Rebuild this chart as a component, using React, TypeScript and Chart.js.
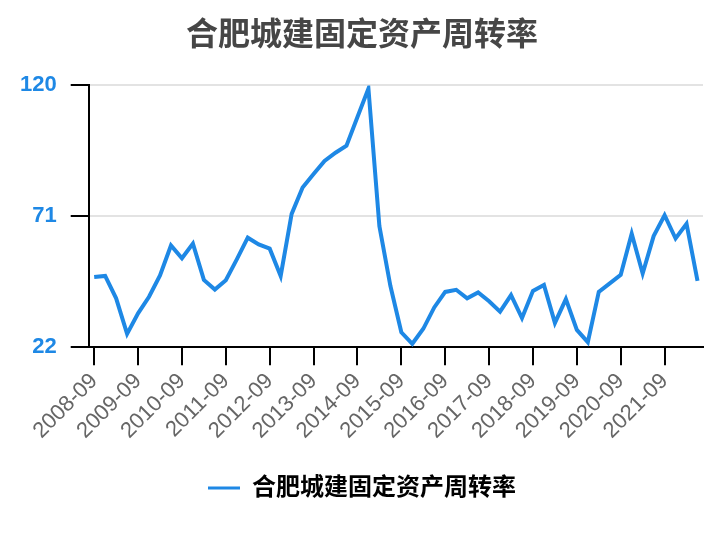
import React, { useEffect, useRef } from "react";
import { Chart, registerables } from "chart.js";

Chart.register(...registerables);

const TITLE = "合肥城建固定资产周转率";
const SERIES_NAME = "合肥城建固定资产周转率";

const categories: string[] = [
  "2008-09", "2008-12", "2009-03", "2009-06",
  "2009-09", "2009-12", "2010-03", "2010-06",
  "2010-09", "2010-12", "2011-03", "2011-06",
  "2011-09", "2011-12", "2012-03", "2012-06",
  "2012-09", "2012-12", "2013-03", "2013-06",
  "2013-09", "2013-12", "2014-03", "2014-06",
  "2014-09", "2014-12", "2015-03", "2015-06",
  "2015-09", "2015-12", "2016-03", "2016-06",
  "2016-09", "2016-12", "2017-03", "2017-06",
  "2017-09", "2017-12", "2018-03", "2018-06",
  "2018-09", "2018-12", "2019-03", "2019-06",
  "2019-09", "2019-12", "2020-03", "2020-06",
  "2020-09", "2020-12", "2021-03", "2021-06",
  "2021-09", "2021-12", "2022-03", "2022-06",
];

const turnover: number[] = [
  48.3, 48.7, 40.3, 27.0, 34.7, 40.9, 48.9, 60.1, 55.3, 60.8,
  47.2, 43.6, 47.1, 54.9, 63.0, 60.5, 58.9, 48.7, 71.9, 81.8,
  86.8, 91.7, 94.8, 97.4, 108.2, 118.8, 67.3, 45.0, 27.6, 23.3,
  28.9, 36.9, 42.7, 43.5, 40.3, 42.5, 39.2, 35.3, 41.5, 32.9,
  43.1, 45.3, 31.1, 40.0, 28.5, 23.9, 42.7, 45.9, 49.1, 64.5,
  49.6, 63.6, 71.4, 62.7, 68.2, 46.8,
];

const yTicks: number[] = [22, 71, 120];

const BLUE = "#1e88e5";
const FONT = "'Liberation Sans', 'Noto Sans CJK SC', Arial, sans-serif";

export default function App() {
  const ref = useRef<HTMLCanvasElement | null>(null);

  useEffect(() => {
    if (!ref.current) return;
    const chart = new Chart(ref.current, {
      type: "line",
      data: {
        labels: categories,
        datasets: [
          {
            label: SERIES_NAME,
            data: turnover,
            borderColor: BLUE,
            backgroundColor: BLUE,
            borderWidth: 4,
            pointRadius: 0,
            tension: 0,
            fill: false,
          },
        ],
      },
      options: {
        responsive: false,
        animation: false,
        layout: { padding: { left: 18, right: 18, top: 0, bottom: 30 } },
        plugins: {
          title: {
            display: true,
            text: TITLE,
            color: "#464646",
            font: { family: FONT, size: 32, weight: "bold" },
            padding: { top: 17, bottom: 30 },
          },
          legend: {
            display: true,
            position: "bottom",
            labels: {
              boxWidth: 32,
              boxHeight: 3,
              padding: 29,
              color: "#333",
              font: { family: FONT, size: 24, weight: "bold" },
              generateLabels: () => [
                {
                  text: SERIES_NAME,
                  fillStyle: BLUE,
                  strokeStyle: BLUE,
                  lineWidth: 0,
                  hidden: false,
                  datasetIndex: 0,
                } as any,
              ],
            },
          },
          tooltip: { enabled: false },
        },
        scales: {
          x: {
            type: "category",
            offset: true,
            border: { display: true, color: "#000", width: 2 },
            grid: {
              display: true,
              offset: false,
              drawOnChartArea: false,
              drawTicks: true,
              tickLength: 18,
              lineWidth: 2,
              color: "#000",
              tickColor: (ctx: any) => (ctx.index % 4 === 0 ? "#000" : "rgba(0,0,0,0)"),
            },
            afterFit: (scale: any) => {
              scale.paddingLeft = 0;
              scale.paddingRight = 21;
            },
            ticks: {
              autoSkip: false,
              minRotation: 45,
              maxRotation: 45,
              padding: 3,
              color: "#666",
              font: { family: FONT, size: 22 },
              callback: (_v: any, i: number) => (i % 4 === 0 ? categories[i] : ""),
            },
          },
          y: {
            type: "linear",
            min: 22,
            max: 120,
            border: { display: true, color: "#000", width: 2 },
            grid: {
              display: true,
              drawOnChartArea: true,
              drawTicks: true,
              tickLength: 18,
              lineWidth: 2,
              color: "#e3e3e3",
              tickColor: "#000",
            },
            afterBuildTicks: (axis: any) => {
              axis.ticks = yTicks.map((v) => ({ value: v }));
            },
            afterFit: (scale: any) => {
              scale.width = scale.width - 12;
            },
            ticks: {
              padding: 14,
              color: BLUE,
              font: { family: FONT, size: 22, weight: "bold" },
            },
          },
        },
      },
    });
    return () => chart.destroy();
  }, []);

  return (
    <canvas
      ref={ref}
      width={724}
      height={540}
      style={{ position: "absolute", left: 0, top: 0, display: "block", background: "#fff" }}
    />
  );
}
